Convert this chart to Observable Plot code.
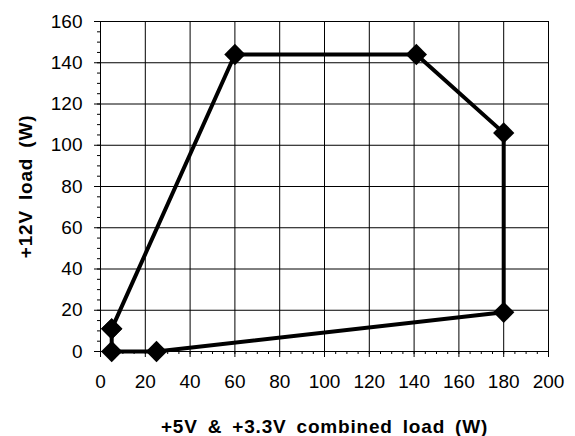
<!DOCTYPE html>
<html><head><meta charset="utf-8">
<script src="https://cdn.jsdelivr.net/npm/d3@7"></script>
<script src="https://cdn.jsdelivr.net/npm/@observablehq/plot@0.6"></script>
<style>
body{margin:0;background:#fff;}
g[aria-label="x-axis label"] text, g[aria-label="y-axis label"] text{font-weight:bold;font-size:19px;word-spacing:4px;letter-spacing:0.8px;}
</style>
</head><body><div id="chart"></div>
<script>
const combinedLoad = [5, 60, 141, 180, 180, 25, 5, 5];
const load12V = [11, 144, 144, 106, 19, 0, 0, 11];
const xTicks = [0, 20, 40, 60, 80, 100, 120, 140, 160, 180, 200];
const yTicks = [0, 20, 40, 60, 80, 100, 120, 140, 160];

const pts = combinedLoad.map((x, i) => ({x, y: load12V[i]}));
const xMinor = d3.range(0, 201, 5);
const yMinor = d3.range(0, 161, 5);

const chart = Plot.plot({
  width: 575, height: 436,
  marginLeft: 100, marginRight: 27, marginTop: 21, marginBottom: 85,
  style: {fontFamily: "'Liberation Sans', Arial, sans-serif", fontSize: "19px", color: "#000", background: "#fff"},
  x: {domain: [0, 200]},
  y: {domain: [0, 160]},
  marks: [
    Plot.gridX(xTicks, {stroke: "#000", strokeOpacity: 1, strokeWidth: 1}),
    Plot.gridY(yTicks, {stroke: "#000", strokeOpacity: 1, strokeWidth: 1}),
    Plot.axisX(xMinor, {tickSize: 3, text: null, label: null, strokeWidth: 1}),
    Plot.axisY(yMinor, {tickSize: 3, text: null, label: null, strokeWidth: 1}),
    Plot.axisX(xTicks, {tickSize: 6, tickPadding: 17, fontSize: 19, label: "+5V & +3.3V combined load (W)", labelAnchor: "center", labelOffset: 81, labelArrow: "none"}),
    Plot.axisY(yTicks, {tickSize: 6, tickPadding: 12, fontSize: 19, label: "+12V load (W)", labelAnchor: "center", labelOffset: 82, labelArrow: "none"}),
    Plot.frame({stroke: "#000", strokeWidth: 1}),
    Plot.line(pts, {x: "x", y: "y", stroke: "#000", strokeWidth: 4}),
    Plot.dot(pts, {x: "x", y: "y", symbol: "square", r: 8.5, rotate: 45, fill: "#000", stroke: "none"})
  ]
});
document.getElementById("chart").appendChild(chart);
</script></body></html>
